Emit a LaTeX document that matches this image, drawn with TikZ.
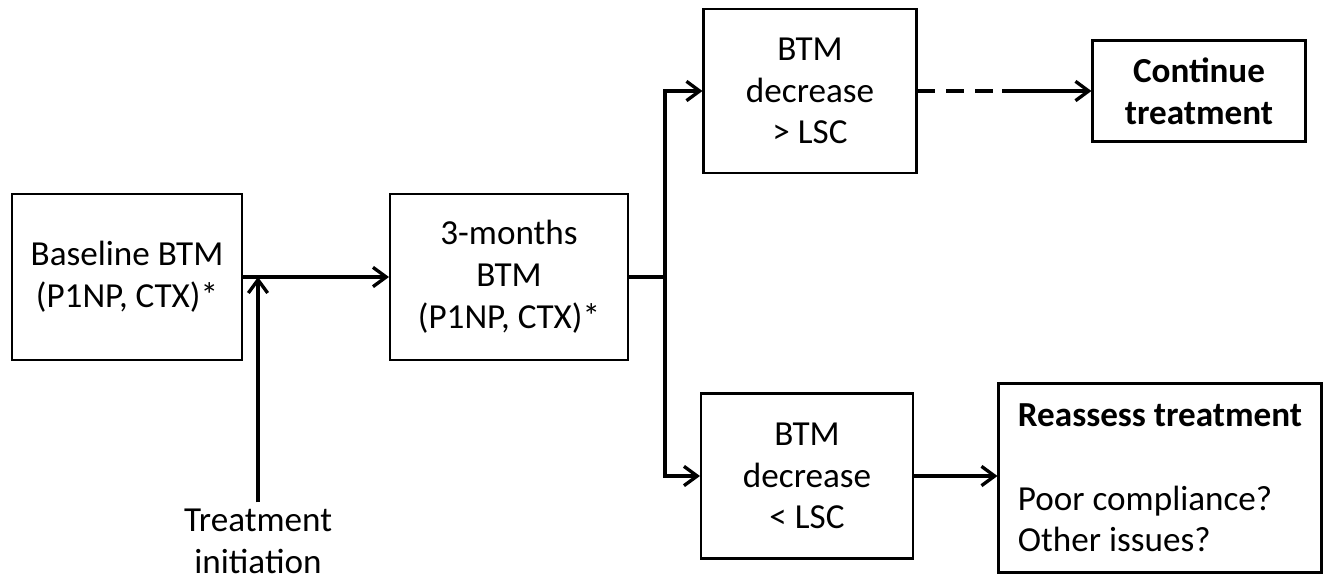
\documentclass[tikz,border=0pt]{standalone}
\usepackage{fontspec}
\setmainfont{Carlito}
\usetikzlibrary{arrows.meta}
\usetikzlibrary{positioning, calc}

\tikzset{
  box/.style={draw, line width=1.2pt, align=center, inner sep=0pt},
  flow/.style={line width=2pt, -{Straight Barb[length=7.5pt,width=11pt,line width=1.9pt]}},
  link/.style={line width=2pt},
}

\begin{document}
\begin{tikzpicture}[x=0.02cm, y=-0.02cm, font=\fontsize{20}{23.8}\selectfont]
  \useasboundingbox (0,0) rectangle (1329,582);
  \def\split{665}

  % BOXES
  \node[box, minimum width=4.6cm, minimum height=3.32cm] (base) at (127,277) {Baseline BTM\\(P1NP, CTX)*};
  \node[box, minimum width=4.76cm, minimum height=3.32cm] (three) at (509,277) {3-months\\BTM\\(P1NP, CTX)*};
  \node[box, minimum width=4.26cm, minimum height=3.28cm] (above) at (810,91) {BTM\\decrease\\> LSC};
  \node[box, minimum width=4.24cm, minimum height=3.3cm] (below) at (807,476) {BTM\\decrease\\< LSC};
  \node[box, minimum width=4.26cm, minimum height=2.02cm, font=\fontsize{20}{23.8}\selectfont\bfseries] (cont) at (1199,91) {Continue\\treatment};
  \node[box, minimum width=6.46cm, minimum height=3.78cm, align=left] (reass) at (1160,478)
    {\textbf{Reassess treatment}\\[23.8pt]Poor compliance?\\Other issues?};
  \node[align=center] (init) at (258,541) {Treatment\\initiation};

  % CONNECTORS
  \coordinate (join) at (258,277);
  \coordinate (fork) at (\split,277);
  \coordinate (dashend) at (1002,91);
  \draw[flow] (base.east) -- (three.west);
  \draw[flow] (init.north) -- (join);
  \draw[link] (three.east) -- (fork);
  \draw[flow] (fork) |- (above.west);
  \draw[flow] (fork) |- (below.west);
  \draw[link, dash pattern=on 10.2pt off 6.2pt] (above.east) -- (dashend);
  \draw[flow] (dashend) -- (dashend -| cont.west);
  \draw[flow] (below.east) -- (below.east -| reass.west);
\end{tikzpicture}
\end{document}
